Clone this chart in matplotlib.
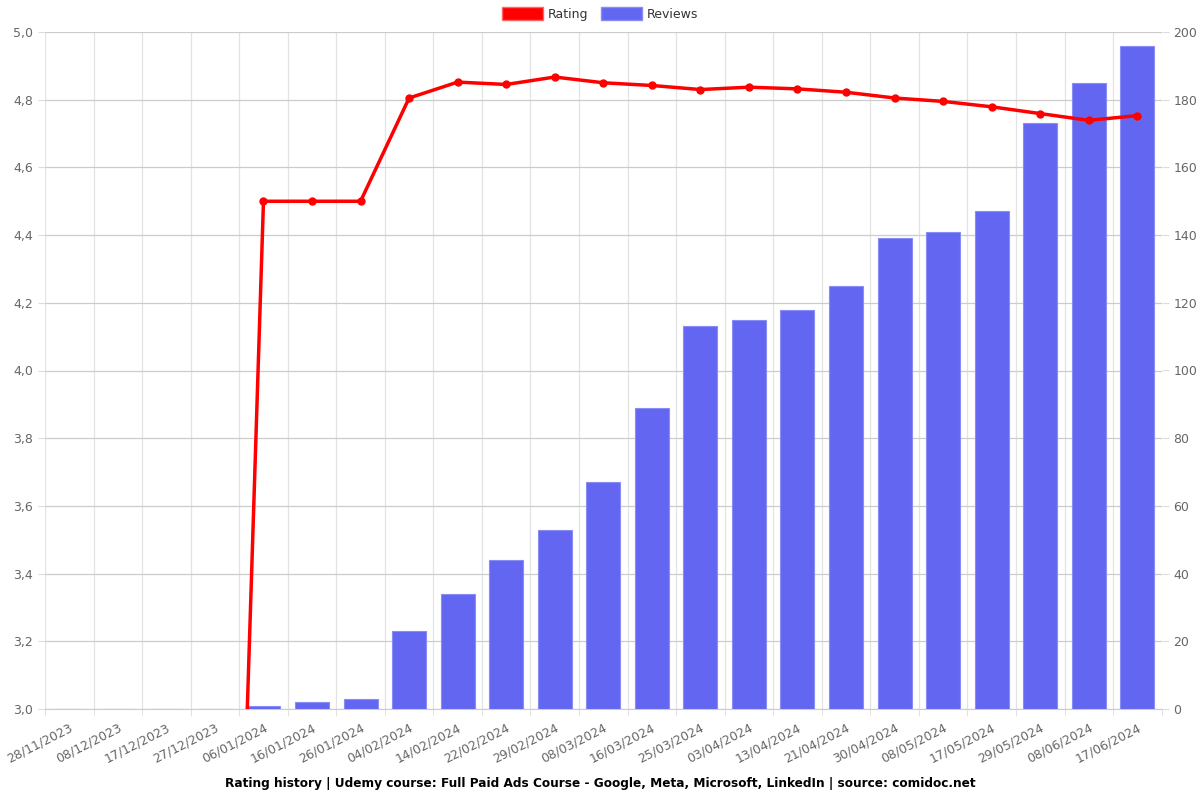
import matplotlib
matplotlib.use("Agg")
import matplotlib.pyplot as plt
from matplotlib.patches import Patch
from matplotlib.ticker import FuncFormatter, MultipleLocator
import numpy as np

dates = ["28/11/2023", "08/12/2023", "17/12/2023", "27/12/2023", "06/01/2024",
         "16/01/2024", "26/01/2024", "04/02/2024", "14/02/2024", "22/02/2024",
         "29/02/2024", "08/03/2024", "16/03/2024", "25/03/2024", "03/04/2024",
         "13/04/2024", "21/04/2024", "30/04/2024", "08/05/2024", "17/05/2024",
         "29/05/2024", "08/06/2024", "17/06/2024"]
rating = [0, 0, 0, 0, 4.5, 4.5, 4.5, 4.805, 4.852, 4.845, 4.867, 4.850, 4.842,
          4.830, 4.837, 4.832, 4.822, 4.805, 4.795, 4.779, 4.759, 4.739, 4.753]
reviews = [0, 0, 0, 0, 1, 2, 3, 23, 34, 44, 53, 67, 89, 113, 115, 118, 125,
           139, 141, 147, 173, 185, 196]

title = "Rating history | Udemy course: Full Paid Ads Course - Google, Meta, Microsoft, LinkedIn | source: comidoc.net"

fig = plt.figure(figsize=(12, 8), dpi=100)
ax = fig.add_axes([0.0375, 0.11375, 0.9305, 0.84625])
ax2 = ax.twinx()

x = np.arange(len(dates))
ax.set_xlim(-0.5, len(dates) - 0.5)
ax.set_ylim(3.0, 5.0)
ax2.set_ylim(0, 200)

grey = "#666666"
fs = 9
# grid
ax.yaxis.set_major_locator(MultipleLocator(0.2))
ax.grid(axis="y", color="#cccccc", linewidth=0.9)
ax.set_xticks(x)
ax.set_xticks(np.arange(-0.5, len(dates)), minor=True)
ax.grid(axis="x", which="minor", color="#e3e3e3", linewidth=0.9)
ax.set_axisbelow(True)

ax.set_xticklabels(dates, rotation=27, ha="right", rotation_mode="anchor",
                   fontsize=fs, color=grey)
ax.tick_params(axis="x", which="major", length=0, pad=9)
ax.tick_params(axis="x", which="minor", length=5, color="#dddddd")
ax.yaxis.set_major_formatter(FuncFormatter(lambda v, p: f"{v:.1f}".replace(".", ",")))
ax.tick_params(axis="y", labelsize=fs, labelcolor=grey, length=5, color="#dddddd")

ax2.yaxis.set_major_locator(MultipleLocator(20))
ax2.tick_params(axis="y", labelsize=fs, labelcolor=grey, length=5, color="#dddddd")

for a in (ax, ax2):
    for s in a.spines.values():
        s.set_visible(False)
ax.spines["bottom"].set_visible(True)
ax.spines["bottom"].set_color("#cccccc")

bar_color = "#6366f1"
ax2.bar(x, reviews, width=0.7, color=bar_color, edgecolor="#8a8cf5",
        linewidth=0.8, zorder=1)
ax2.plot(x, rating, color="#ff0000", linewidth=2.5, marker="o", markersize=5,
         transform=ax.transData, zorder=3, clip_on=True)

handles = [Patch(facecolor="#ff0000", edgecolor="#ff6666"),
           Patch(facecolor=bar_color, edgecolor="#8a8cf5")]
fig.legend(handles, ["Rating", "Reviews"], loc="upper center",
           bbox_to_anchor=(0.5, 1.005), ncol=2, frameon=False, fontsize=fs,
           handlelength=3.3, handleheight=1.2, columnspacing=1.0,
           handletextpad=0.4, labelcolor="#333333")

fig.text(0.5, 0.021, title, ha="center", va="center", fontsize=8.7,
         fontweight="bold")

fig.savefig("out.png", dpi=100)
